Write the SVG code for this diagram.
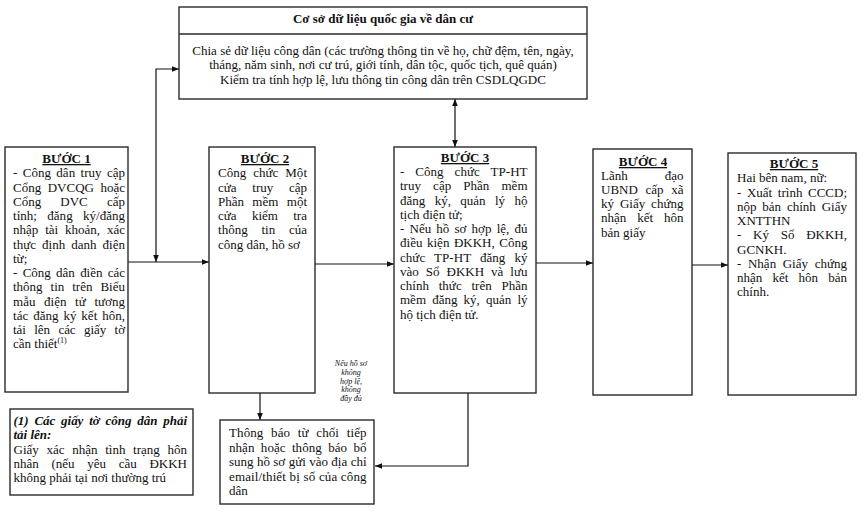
<svg xmlns="http://www.w3.org/2000/svg" width="864" height="512" viewBox="0 0 864 512">
<style>
text{font-family:"Liberation Serif","Times New Roman",serif;font-size:13px;fill:#111}
.b{font-weight:bold}
.h{font-weight:bold;text-anchor:middle;text-decoration:underline}
.c{text-anchor:middle}
.box{fill:#fff;stroke:#2a2a2a;stroke-width:1.4}
.ln{fill:none;stroke:#111;stroke-width:1.2}
.note{font-size:8px;font-style:italic;text-anchor:middle}
.fi{font-weight:bold;font-style:italic}
</style>
<defs>
<marker id="ah" viewBox="0 0 10 10" refX="10" refY="5" markerWidth="7" markerHeight="7" markerUnits="userSpaceOnUse" orient="auto-start-reverse"><path d="M0,1 L10,5 L0,9 z" fill="#111"/></marker>
</defs>
<rect width="864" height="512" fill="#fff"/>

<g id="connectors">
<path class="ln" d="M128,262 H209" marker-end="url(#ah)"/>
<path class="ln" d="M156,262 V69 H179" marker-start="url(#ah)" marker-end="url(#ah)"/>
<path class="ln" d="M315,264 H394" marker-end="url(#ah)"/>
<path class="ln" d="M536,263 H593" marker-end="url(#ah)"/>
<path class="ln" d="M692,265 H728" marker-end="url(#ah)"/>
<path class="ln" d="M455,99 V147" marker-start="url(#ah)" marker-end="url(#ah)"/>
<path class="ln" d="M260,393 V420" marker-end="url(#ah)"/>
<path class="ln" d="M468,393 V466 H375" marker-end="url(#ah)"/>
</g>

<g id="csdl">
<rect class="box" x="179" y="7" width="408" height="92"/>
<line class="box" x1="179" y1="34" x2="587" y2="34"/>
<text class="b c" x="383" y="22.5">Cơ sở dữ liệu quốc gia về dân cư</text>
<text class="c" x="383" y="54.5">Chia sẻ dữ liệu công dân (các trường thông tin về họ, chữ đệm, tên, ngày,</text>
<text class="c" x="383" y="69">tháng, năm sinh, nơi cư trú, giới tính, dân tộc, quốc tịch, quê quán)</text>
<text class="c" x="383" y="83.5">Kiểm tra tính hợp lệ, lưu thông tin công dân trên CSDLQGDC</text>
</g>

<g id="buoc1">
<rect class="box" x="5" y="147" width="123" height="245"/>
<text class="h" x="66.5" y="163">BƯỚC 1</text>
<text x="13" y="177.3" word-spacing="2.2" textLength="112" lengthAdjust="spacing">- Công dân truy cập</text>
<text x="13" y="191.6" word-spacing="3.3" textLength="112" lengthAdjust="spacing">Cổng DVCQG hoặc</text>
<text x="13" y="205.8" word-spacing="15.9" textLength="112" lengthAdjust="spacing">Cổng DVC cấp</text>
<text x="13" y="220.1" word-spacing="7.2" textLength="112" lengthAdjust="spacing">tỉnh; đăng ký/đăng</text>
<text x="13" y="234.3" word-spacing="3.6" textLength="112" lengthAdjust="spacing">nhập tài khoản, xác</text>
<text x="13" y="248.6" word-spacing="2.8" textLength="112" lengthAdjust="spacing">thực định danh điện</text>
<text x="13" y="262.8">từ;</text>
<text x="13" y="277.1" word-spacing="2.2" textLength="112" lengthAdjust="spacing">- Công dân điền các</text>
<text x="13" y="291.3" word-spacing="4.7" textLength="112" lengthAdjust="spacing">thông tin trên Biểu</text>
<text x="13" y="305.6" word-spacing="5.3" textLength="112" lengthAdjust="spacing">mẫu điện tử tương</text>
<text x="13" y="319.8" word-spacing="1.7" textLength="112" lengthAdjust="spacing">tác đăng ký kết hôn,</text>
<text x="13" y="334.1" word-spacing="5.2" textLength="112" lengthAdjust="spacing">tải lên các giấy tờ</text>
<text x="13" y="348.3">cần thiết<tspan font-size="8" dy="-5">(1)</tspan></text>
</g>

<g id="buoc2">
<rect class="box" x="209" y="147" width="106" height="246"/>
<text class="h" x="265" y="163">BƯỚC 2</text>
<text x="218" y="177.3" word-spacing="3.7" textLength="89" lengthAdjust="spacing">Công chức Một</text>
<text x="218" y="191.6" word-spacing="12.4" textLength="89" lengthAdjust="spacing">cửa truy cập</text>
<text x="218" y="205.8" word-spacing="5.1" textLength="89" lengthAdjust="spacing">Phần mềm một</text>
<text x="218" y="220.1" word-spacing="12" textLength="89" lengthAdjust="spacing">cửa kiểm tra</text>
<text x="218" y="234.3" word-spacing="10.5" textLength="89" lengthAdjust="spacing">thông tin của</text>
<text x="218" y="248.6">công dân, hồ sơ</text>
</g>

<g id="buoc3">
<rect class="box" x="394" y="147" width="142" height="246"/>
<text class="h" x="465" y="162">BƯỚC 3</text>
<text x="400" y="176" word-spacing="7.7" textLength="127.5" lengthAdjust="spacing">- Công chức TP-HT</text>
<text x="400" y="190.25" word-spacing="8.9" textLength="127.5" lengthAdjust="spacing">truy cập Phần mềm</text>
<text x="400" y="204.5" word-spacing="6.1" textLength="127.5" lengthAdjust="spacing">đăng ký, quản lý hộ</text>
<text x="400" y="218.75">tịch điện tử;</text>
<text x="400" y="233" word-spacing="1.8" textLength="127.5" lengthAdjust="spacing">- Nếu hồ sơ hợp lệ, đủ</text>
<text x="400" y="247.25" word-spacing="1.3" textLength="127.5" lengthAdjust="spacing">điều kiện ĐKKH, Công</text>
<text x="400" y="261.5" word-spacing="5.8" textLength="127.5" lengthAdjust="spacing">chức TP-HT đăng ký</text>
<text x="400" y="275.75" word-spacing="3.7" textLength="127.5" lengthAdjust="spacing">vào Sổ ĐKKH và lưu</text>
<text x="400" y="290" word-spacing="6.5" textLength="127.5" lengthAdjust="spacing">chính thức trên Phần</text>
<text x="400" y="304.25" word-spacing="2.9" textLength="127.5" lengthAdjust="spacing">mềm đăng ký, quản lý</text>
<text x="400" y="318.5">hộ tịch điện tử.</text>
</g>

<g id="buoc4">
<rect class="box" x="593" y="149" width="99" height="246"/>
<text class="h" x="643" y="166">BƯỚC 4</text>
<text x="601" y="179.5" word-spacing="33.8" textLength="82.5" lengthAdjust="spacing">Lãnh đạo</text>
<text x="601" y="193.75" word-spacing="4.4" textLength="82.5" lengthAdjust="spacing">UBND cấp xã</text>
<text x="601" y="208" word-spacing="2.6" textLength="82.5" lengthAdjust="spacing">ký Giấy chứng</text>
<text x="601" y="222.25" word-spacing="7.6" textLength="82.5" lengthAdjust="spacing">nhận kết hôn</text>
<text x="601" y="236.5">bản giấy</text>
</g>

<g id="buoc5">
<rect class="box" x="728" y="153" width="128" height="242"/>
<text class="h" x="794" y="168">BƯỚC 5</text>
<text x="737" y="182.3">Hai bên nam, nữ:</text>
<text x="737" y="196.5" word-spacing="2.3" textLength="110" lengthAdjust="spacing">- Xuất trình CCCD;</text>
<text x="737" y="210.8" word-spacing="2.6" textLength="110" lengthAdjust="spacing">nộp bản chính Giấy</text>
<text x="737" y="225">XNTTHN</text>
<text x="737" y="239.3" word-spacing="8.5" textLength="110" lengthAdjust="spacing">- Ký Sổ ĐKKH,</text>
<text x="737" y="253.5">GCNKH.</text>
<text x="737" y="267.8" word-spacing="3.3" textLength="110" lengthAdjust="spacing">- Nhận Giấy chứng</text>
<text x="737" y="282" word-spacing="6.9" textLength="110" lengthAdjust="spacing">nhận kết hôn bản</text>
<text x="737" y="296.3">chính.</text>
</g>

<g id="thongbao">
<rect class="box" x="220" y="420" width="154" height="84"/>
<text x="229" y="437" word-spacing="4.3" textLength="137.5" lengthAdjust="spacing">Thông báo từ chối tiếp</text>
<text x="229" y="451.5" word-spacing="3" textLength="137.5" lengthAdjust="spacing">nhận hoặc thông báo bổ</text>
<text x="229" y="466" word-spacing="0.2" textLength="137.5" lengthAdjust="spacing">sung hồ sơ gửi vào địa chỉ</text>
<text x="229" y="480.5" word-spacing="0.2" textLength="137.5" lengthAdjust="spacing">email/thiết bị số của công</text>
<text x="229" y="495">dân</text>
</g>

<g id="dieukien">
<text class="note" x="351" y="366">Nếu hồ sơ</text>
<text class="note" x="351" y="374.8">không</text>
<text class="note" x="351" y="383.6">hợp lệ,</text>
<text class="note" x="351" y="392.4">không</text>
<text class="note" x="351" y="401.2">đầy đủ</text>
</g>

<g id="ghichu">
<rect class="box" x="10" y="409" width="183" height="86"/>
<text class="fi" x="13.5" y="425" word-spacing="2.6" textLength="173.5" lengthAdjust="spacing">(1) Các giấy tờ công dân phải</text>
<text class="fi" x="13.5" y="439.3">tải lên:</text>
<text x="13.5" y="453.5" word-spacing="4.4" textLength="173.5" lengthAdjust="spacing">Giấy xác nhận tình trạng hôn</text>
<text x="13.5" y="467.8" word-spacing="9.4" textLength="173.5" lengthAdjust="spacing">nhân (nếu yêu cầu ĐKKH</text>
<text x="13.5" y="482">không phải tại nơi thường trú</text>
</g>
</svg>
